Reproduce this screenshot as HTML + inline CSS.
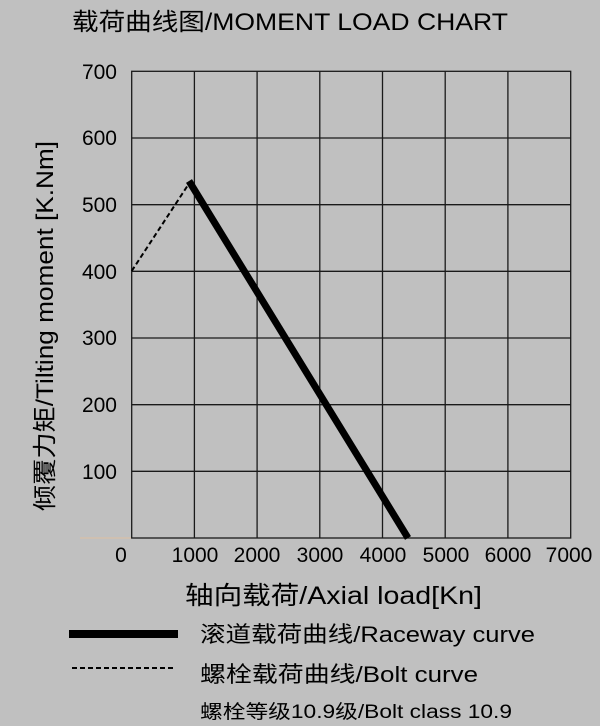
<!DOCTYPE html>
<html><head><meta charset="utf-8"><style>
html,body{margin:0;padding:0;background:#c0c0c0;}
svg{display:block;}
text{font-family:"Liberation Sans","Noto Sans CJK SC",sans-serif;fill:#000;}
</style></head><body>
<svg width="600" height="726" viewBox="0 0 600 726">
<rect width="600" height="726" fill="#c0c0c0"/>
<text x="72" y="30" font-size="24" textLength="436" lengthAdjust="spacingAndGlyphs">载荷曲线图/MOMENT LOAD CHART</text>
<g stroke="#1a1a1a" stroke-width="1.3" fill="none">
<rect x="131.7" y="71.3" width="439" height="466.7"/>
<line x1="194.4" y1="71.3" x2="194.4" y2="538"/>
<line x1="257.1" y1="71.3" x2="257.1" y2="538"/>
<line x1="319.8" y1="71.3" x2="319.8" y2="538"/>
<line x1="382.5" y1="71.3" x2="382.5" y2="538"/>
<line x1="445.2" y1="71.3" x2="445.2" y2="538"/>
<line x1="507.9" y1="71.3" x2="507.9" y2="538"/>
<line x1="131.7" y1="138" x2="570.7" y2="138"/>
<line x1="131.7" y1="204.7" x2="570.7" y2="204.7"/>
<line x1="131.7" y1="271.3" x2="570.7" y2="271.3"/>
<line x1="131.7" y1="338" x2="570.7" y2="338"/>
<line x1="131.7" y1="404.7" x2="570.7" y2="404.7"/>
<line x1="131.7" y1="471.3" x2="570.7" y2="471.3"/>
</g>
<line x1="80" y1="538" x2="131" y2="538" stroke="#d8c0a8" stroke-width="1.3"/>
<line x1="131.7" y1="271" x2="190" y2="182" stroke="#000" stroke-width="2" stroke-dasharray="5,3"/>
<line x1="189" y1="181" x2="408" y2="538" stroke="#000" stroke-width="7"/>
<g font-size="21" text-anchor="end">
<text x="117" y="79">700</text><text x="117" y="145">600</text><text x="117" y="212">500</text>
<text x="117" y="279">400</text><text x="117" y="345">300</text><text x="117" y="412">200</text>
<text x="117" y="479">100</text>
</g>
<g font-size="21" text-anchor="middle">
<text x="121" y="562">0</text><text x="195" y="562">1000</text><text x="257" y="562">2000</text>
<text x="320" y="562">3000</text><text x="383" y="562">4000</text><text x="446" y="562">5000</text>
<text x="508" y="562">6000</text><text x="569" y="562">7000</text>
</g>
<text transform="translate(53,511) rotate(-90)" font-size="24" textLength="370" lengthAdjust="spacingAndGlyphs">倾覆力矩/Tilting moment [K.Nm]</text>
<text x="185" y="604" font-size="25" textLength="297" lengthAdjust="spacingAndGlyphs">轴向载荷/Axial load[Kn]</text>
<line x1="69" y1="634" x2="178" y2="634" stroke="#000" stroke-width="8"/>
<line x1="72" y1="668" x2="176" y2="668" stroke="#000" stroke-width="2" stroke-dasharray="5,3"/>
<text x="200" y="642" font-size="22" textLength="335" lengthAdjust="spacingAndGlyphs">滚道载荷曲线/Raceway curve</text>
<text x="200" y="682" font-size="22" textLength="278" lengthAdjust="spacingAndGlyphs">螺栓载荷曲线/Bolt curve</text>
<text x="200" y="718" font-size="19" textLength="312" lengthAdjust="spacingAndGlyphs">螺栓等级10.9级/Bolt class 10.9</text>
</svg>
</body></html>
